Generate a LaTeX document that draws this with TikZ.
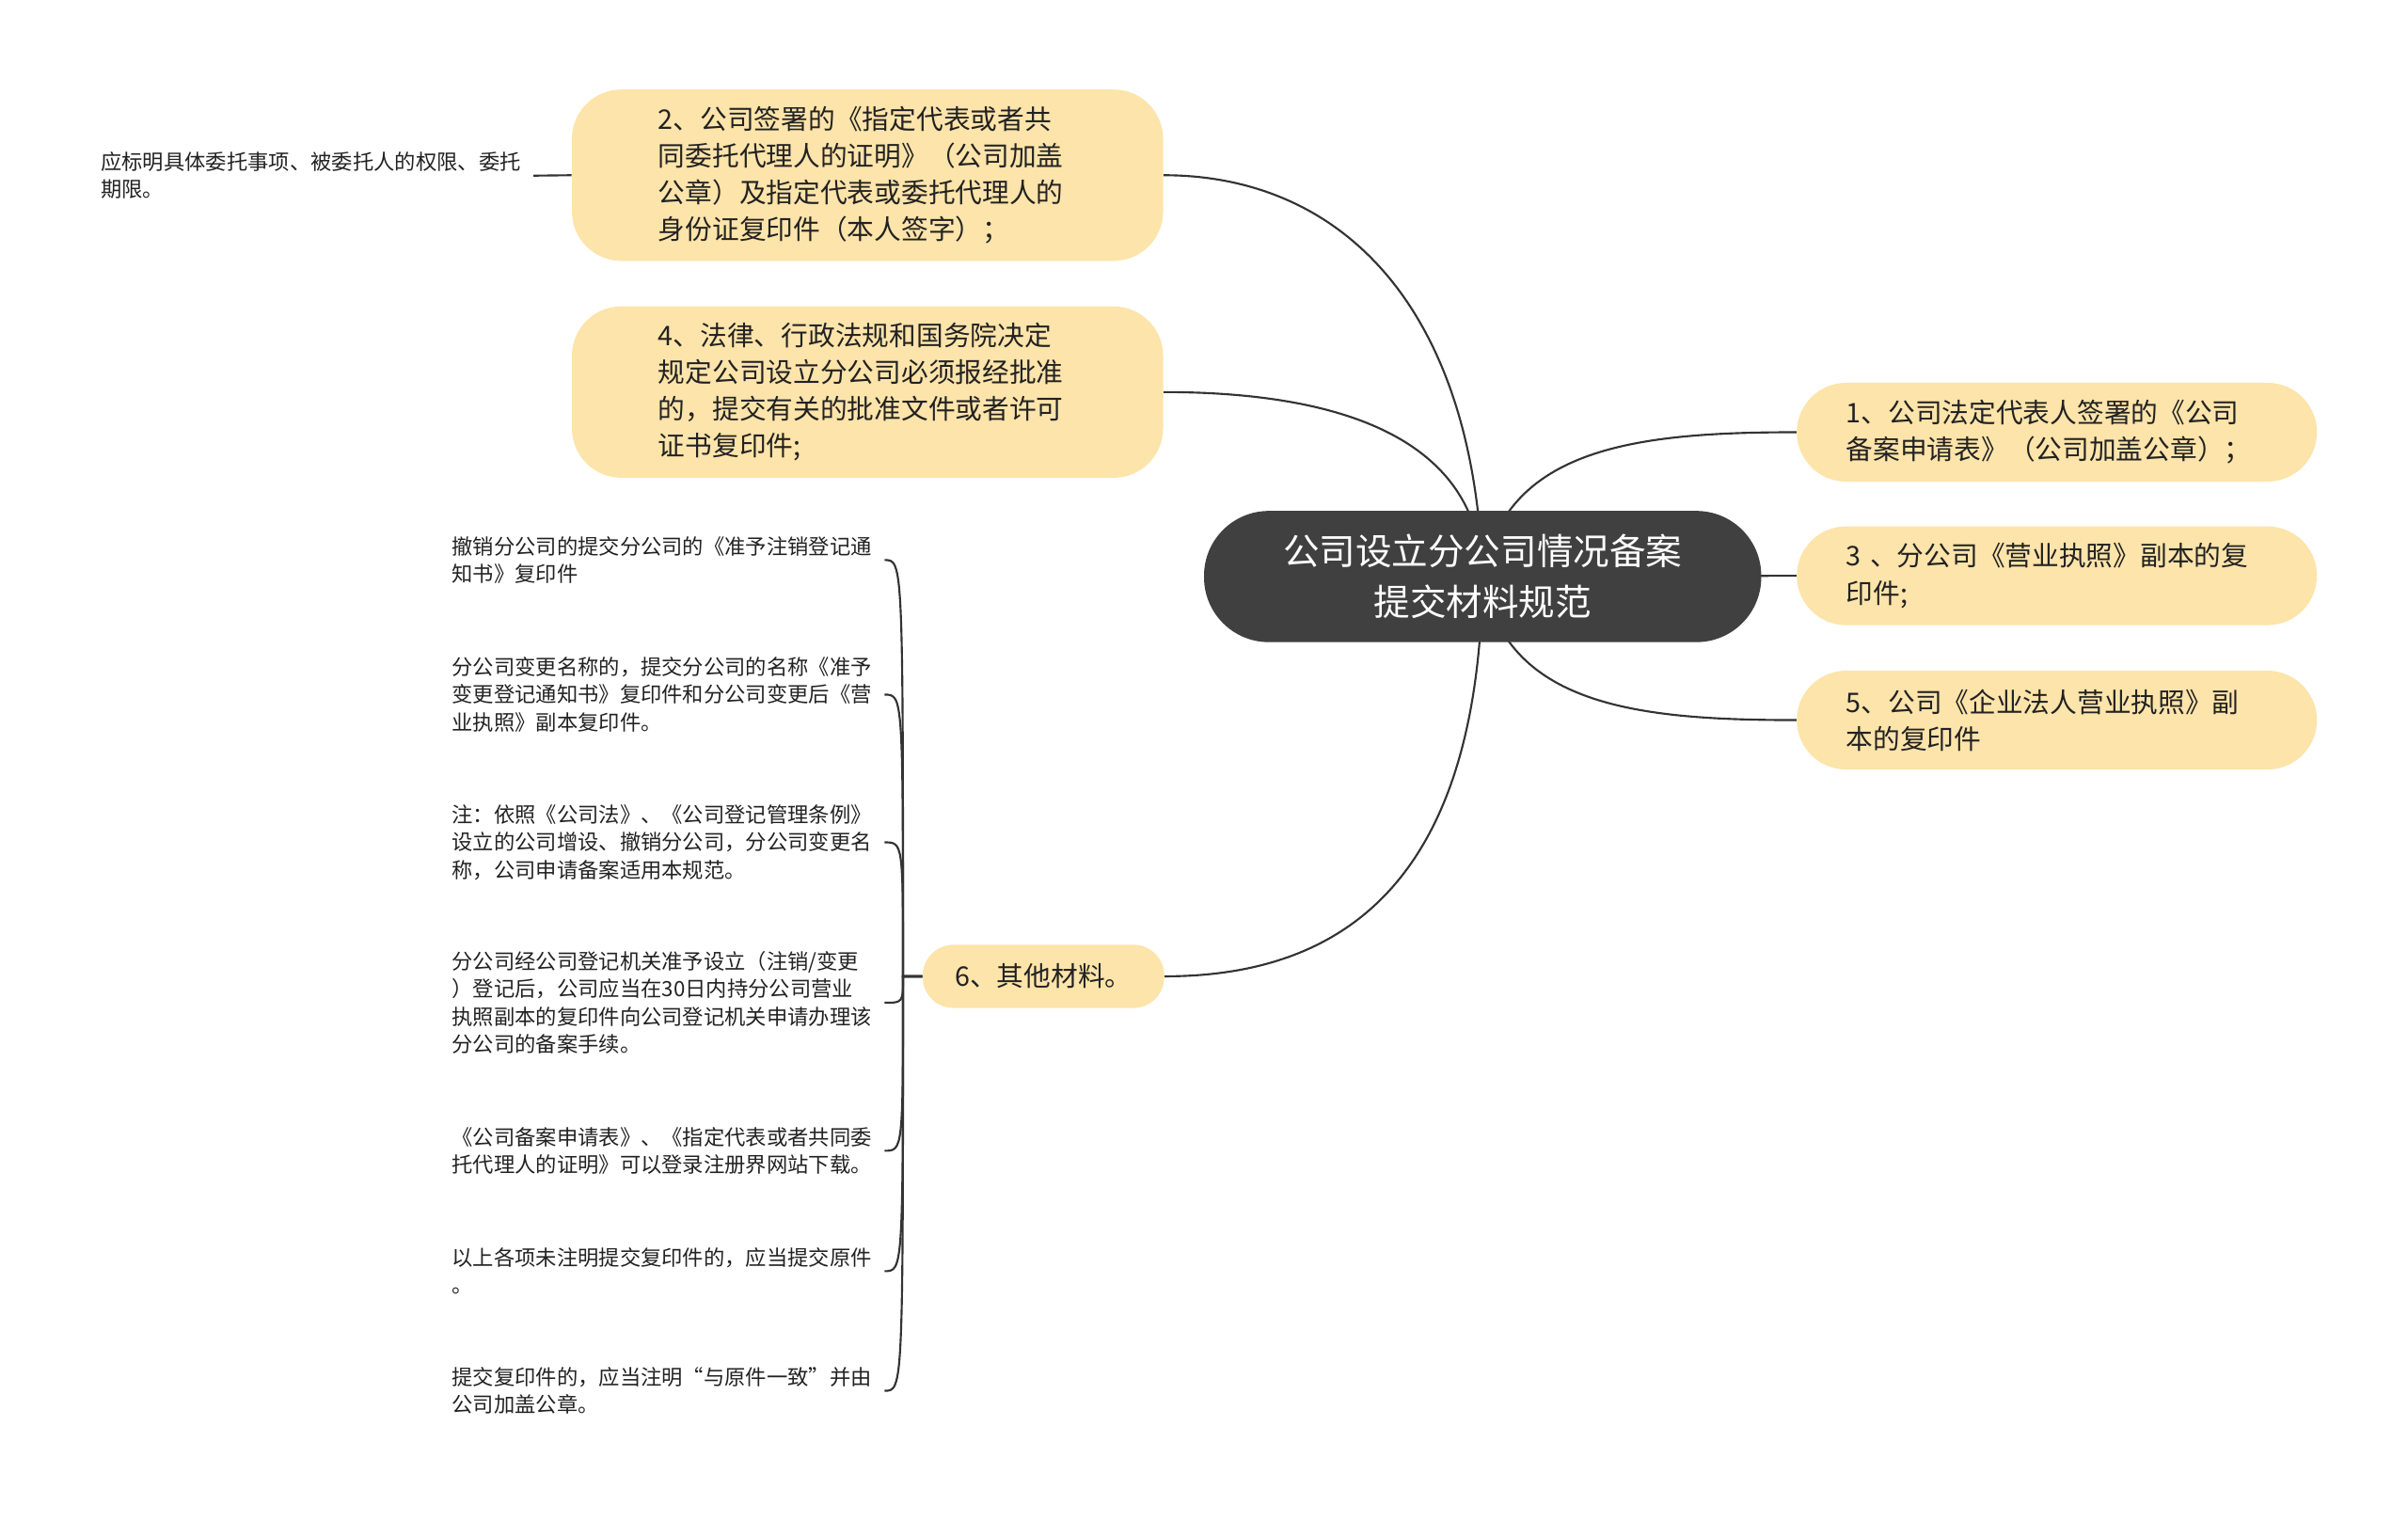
\documentclass[tikz,border=0pt]{standalone}
\usepackage{fontspec}
\newfontfamily\cjk{Noto Sans CJK SC}
\usetikzlibrary{backgrounds}
\definecolor{topicyellow}{RGB}{253,228,170}
\definecolor{rootgray}{RGB}{64,64,64}
\definecolor{linegray}{RGB}{51,51,51}
\definecolor{textblack}{RGB}{34,34,34}
\begin{document}
\begin{tikzpicture}[x=1pt, y=-1pt,
  root/.style={fill=rootgray, text=white, rounded corners=42pt, minimum width=361pt, minimum height=85pt, align=center, inner sep=0pt, font=\cjk\fontsize{23.5}{32.5}\selectfont},
  topic/.style={fill=topicyellow, text=textblack, align=left, inner ysep=0pt, font=\cjk\fontsize{17.5}{23.85}\selectfont},
  bigtopic/.style={topic, rounded corners=32pt, minimum height=111pt, inner xsep=56pt, text width=271pt},
  sidetopic/.style={topic, rounded corners=32pt, minimum height=64pt, inner xsep=32pt, text width=273pt},
  leaf/.style={text=textblack, align=left, inner sep=0pt, text width=280pt, font=\cjk\fontsize{13.6}{17.9}\selectfont},
  conn/.style={draw=linegray, line width=1.3pt}]
\useasboundingbox (0,0) rectangle (1560,984.75);
\node[root] (root) at (960.5,373.5) {公司设立分公司情况备案\\提交材料规范};
\node[bigtopic] (t2) at (562,113.5) {2、公司签署的《指定代表或者共\\同委托代理人的证明》（公司加盖\\公章）及指定代表或委托代理人的\\身份证复印件（本人签字）；};
\node[bigtopic] (t4) at (562,254) {4、法律、行政法规和国务院决定\\规定公司设立分公司必须报经批准\\的，提交有关的批准文件或者许可\\证书复印件;};
\node[sidetopic] (t1) at (1332.5,280) {1、公司法定代表人签署的《公司\\备案申请表》（公司加盖公章）；};
\node[sidetopic] (t3) at (1332.5,373) {3~、分公司《营业执照》副本的复\\印件;};
\node[sidetopic] (t5) at (1332.5,466.5) {5、公司《企业法人营业执照》副\\本的复印件};
\node[topic, rounded corners=20pt, minimum width=156.5pt, minimum height=41pt, inner xsep=0pt] (t6) at (676,632.5) {6、其他材料。};
\node[leaf, anchor=east] (d2) at (345.6,113.8) {应标明具体委托事项、被委托人的权限、委托\\期限。};
\node[leaf, anchor=east] (l1) at (573,362.8) {撤销分公司的提交分公司的《准予注销登记通\\知书》复印件};
\node[leaf, anchor=east] (l2) at (573,450) {分公司变更名称的，提交分公司的名称《准予\\变更登记通知书》复印件和分公司变更后《营\\业执照》副本复印件。};
\node[leaf, anchor=east] (l3) at (573,545.7) {注：依照《公司法》、《公司登记管理条例》\\设立的公司增设、撤销分公司，分公司变更名\\称，公司申请备案适用本规范。};
\node[leaf, anchor=east] (l4) at (573,649.6) {分公司经公司登记机关准予设立（注销/变更\\）登记后，公司应当在30日内持分公司营业\\执照副本的复印件向公司登记机关申请办理该\\分公司的备案手续。};
\node[leaf, anchor=east] (l5) at (573,745.5) {《公司备案申请表》、《指定代表或者共同委\\托代理人的证明》可以登录注册界网站下载。};
\node[leaf, anchor=east] (l6) at (573,823.5) {以上各项未注明提交复印件的，应当提交原件\\。};
\node[leaf, anchor=east] (l7) at (573,901) {提交复印件的，应当注明“与原件一致”并由\\公司加盖公章。};
\coordinate (fork) at (585,632.5);
\begin{scope}[on background layer]
\draw[conn] (root.center) .. controls (955,200) and (870,113.5) .. (t2.east);
\draw[conn] (root.center) .. controls (958,290) and (880,254) .. (t4.east);
\draw[conn] (root.center) .. controls (958,560) and (880,632.5) .. (t6.east);
\draw[conn] (root.center) .. controls (975,290) and (1060,280) .. (t1.west);
\draw[conn] (root.center) -- (t3.west);
\draw[conn] (root.center) .. controls (975,457) and (1060,466.5) .. (t5.west);
\draw[conn] (t2.west) -- (d2.east);
\foreach \i in {1,...,7}
  \draw[conn] (t6.west) -- (fork) .. controls (fork |- l\i.east) and (fork |- l\i.east) .. (l\i.east);
\end{scope}
\end{tikzpicture}
\end{document}
